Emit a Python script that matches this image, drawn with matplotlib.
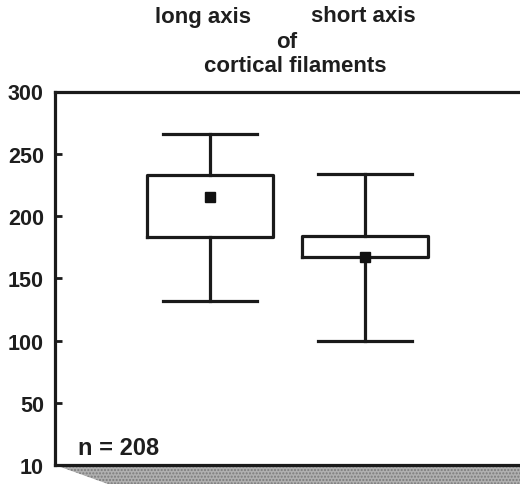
import matplotlib
matplotlib.use("Agg")
import matplotlib.pyplot as plt
from matplotlib.patches import Polygon

# ---- data ----
categories = ["long axis", "short axis"]
whisker_low = [132, 100]
box_low = [183, 167]
box_high = [233, 184]
whisker_high = [266, 234]
means = [215, 167]
tick_positions = [0, 50, 100, 150, 200, 250, 300]
tick_labels = ["10", "50", "100", "150", "200", "250", "300"]
n_text = "n = 208"

plt.rcParams['font.family'] = ['Liberation Sans', 'DejaVu Sans']
plt.rcParams['font.weight'] = 'bold'

W, H = 520, 485
fig = plt.figure(figsize=(W / 100, H / 100), dpi=100)
ax_left, ax_right, ax_top, ax_bottom = 55, 520, 92.5, 466
ax = fig.add_axes([ax_left / W, 1 - ax_bottom / H,
                   (ax_right - ax_left) / W, (ax_bottom - ax_top) / H])

stats = []
for i, c in enumerate(categories):
    stats.append(dict(label=c, whislo=whisker_low[i], q1=box_low[i],
                      med=means[i], q3=box_high[i], whishi=whisker_high[i],
                      mean=means[i], fliers=[]))

lw = 2.3
ink = '#1a1a1a'
ax.bxp(stats, positions=[1, 2], widths=0.81, showmeans=True,
       showfliers=False, patch_artist=False,
       boxprops=dict(color=ink, linewidth=lw),
       whiskerprops=dict(color=ink, linewidth=lw),
       capprops=dict(color=ink, linewidth=lw),
       capwidths=0.61,
       medianprops=dict(linewidth=0),
       meanprops=dict(marker='s', markerfacecolor='#111111',
                      markeredgecolor='#111111', markersize=6.5))

ax.set_xlim(0, 3)
ax.set_ylim(0, 300)
ax.set_xticks([])
ax.set_yticks(tick_positions)
ax.set_yticklabels(tick_labels, fontsize=15.5, fontweight='bold', color='#1e1e1e')
ax.tick_params(axis='y', direction='in', length=5, width=2, pad=8, color=ink)
for s in ['left', 'top', 'bottom']:
    ax.spines[s].set_linewidth(2.3)
    ax.spines[s].set_color(ink)
ax.spines['right'].set_visible(False)

ax.text(0.049, 0.046, n_text, transform=ax.transAxes, ha='left', va='center',
        fontsize=17, fontweight='bold', color='#1e1e1e')

# titles
tfs = 16
fig.text(203 / W, 1 - 17 / H, categories[0], ha='center', va='center',
         fontsize=tfs, fontweight='bold', color='#1e1e1e')
fig.text(363 / W, 1 - 17 / H, categories[1], ha='center', va='center',
         fontsize=tfs, fontweight='bold', color='#1e1e1e')
fig.text(287 / W, 1 - 42 / H, "of", ha='center', va='center',
         fontsize=tfs, fontweight='bold', color='#1e1e1e')
fig.text(295 / W, 1 - 66 / H, "cortical filaments", ha='center', va='center',
         fontsize=tfs, fontweight='bold', color='#1e1e1e')

# shaded floor below the axis
floor = Polygon([[ax_left / W, 1 - ax_bottom / H], [1.0, 1 - ax_bottom / H],
                 [1.0, 0.0], [108 / W, 0.0]], closed=True,
                transform=fig.transFigure, facecolor='#b0b0b0',
                edgecolor='#7a7a7a', hatch='.....', linewidth=0, zorder=-1)
fig.patches.append(floor)

fig.savefig("out.png", dpi=100)
